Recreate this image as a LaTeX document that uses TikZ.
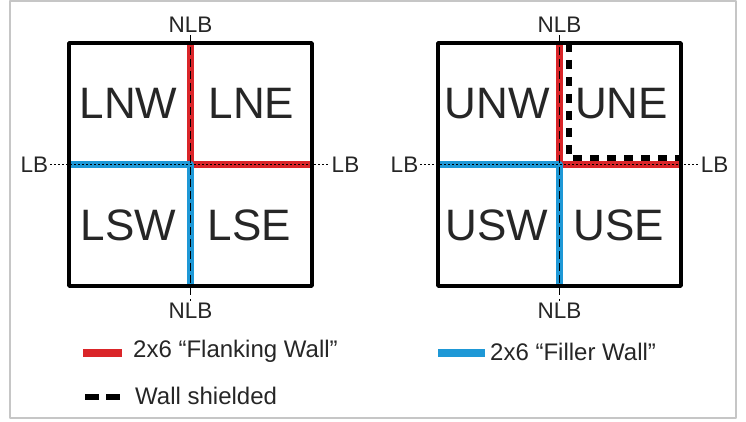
\documentclass[tikz,border=0pt]{standalone}
\usepackage{fontspec}
\setmainfont{Liberation Sans}
\definecolor{flankred}{RGB}{218,37,41}
\definecolor{fillblue}{RGB}{30,152,214}
\tikzset{
  wall/.style={line width=7.5pt},
  shielded/.style={line width=6.5pt,dash pattern=on 9pt off 8pt},
  nlbline/.style={line width=1.1pt,dash pattern=on 8pt off 4pt},
  lbline/.style={line width=1.1pt,dash pattern=on 2pt off 2pt},
  quad/.style={font=\fontsize{44}{44}\selectfont,text=black!85},
  bound/.style={font=\fontsize{22.5}{22.5}\selectfont,text=black!85,inner sep=2pt},
  legtext/.style={font=\fontsize{24}{24}\selectfont,text=black!85,anchor=west,inner sep=0pt}
}
\begin{document}
\begin{tikzpicture}[x=1pt,y=1pt,line join=round]
    \def\h{121.5}
    \useasboundingbox (0,0) rectangle (746,421);
    \draw[gray!45,line width=1.2pt] (10,3) rectangle (736,420);
    % lower floor
    \begin{scope}[shift={(190.5,256.5)}]
    \coordinate (O) at (0,0);
    \coordinate (N) at (0,\h);
    \coordinate (S) at (0,-\h);
    \coordinate (E) at (\h,0);
    \coordinate (W) at (-\h,0);
    \draw[wall,flankred] (N)--(O)--(E);
    \draw[wall,fillblue] (W)--(O)--(S);
    \draw[line width=3.5pt] (-\h,-\h) rectangle (\h,\h);
    \node[bound] (nlbNL) at (0,139.5) {NLB};
    \node[bound] (nlbSL) at (0,-146.5) {NLB};
    \node[bound] (lbWL) at (-156,0) {LB};
    \node[bound] (lbEL) at (155,0) {LB};
    \draw[nlbline] (nlbNL)--(nlbSL);
    \draw[lbline] (lbWL)--(lbEL);
    \node[quad] (LNW) at (-62,61) {LNW};
    \node[quad] (LNE) at (61,61) {LNE};
    \node[quad] (LSW) at (-62,-61) {LSW};
    \node[quad] (LSE) at (59,-61) {LSE};
    \end{scope}
    % upper floor
    \begin{scope}[shift={(559.5,256.5)}]
    \coordinate (O) at (0,0);
    \coordinate (N) at (0,\h);
    \coordinate (S) at (0,-\h);
    \coordinate (E) at (\h,0);
    \coordinate (W) at (-\h,0);
    \draw[wall,flankred] (N)--(O)--(E);
    \draw[wall,fillblue] (W)--(O)--(S);
    \draw[shielded] (9.5,\h)--(9.5,6.5)--(\h,6.5);
    \draw[line width=3.5pt] (-\h,-\h) rectangle (\h,\h);
    \node[bound] (nlbNU) at (0,139.5) {NLB};
    \node[bound] (nlbSU) at (0,-146.5) {NLB};
    \node[bound] (lbWU) at (-155,0) {LB};
    \node[bound] (lbEU) at (155,0) {LB};
    \draw[nlbline] (nlbNU)--(nlbSU);
    \draw[lbline] (lbWU)--(lbEU);
    \node[quad] (UNW) at (-62.5,61) {UNW};
    \node[quad] (UNE) at (62,61) {UNE};
    \node[quad] (USW) at (-62.5,-61) {USW};
    \node[quad] (USE) at (59,-61) {USE};
    \end{scope}
    % key
    \draw[wall,line width=8.5pt,flankred] (83,68)--(122,68);
    \node[legtext] (flankkey) at (133,69.5) {2x6 “Flanking Wall”};
    \draw[wall,line width=8.5pt,fillblue] (438,68)--(485,68);
    \node[legtext] (fillkey) at (490,69.5) {2x6 “Filler Wall”};
    \draw[shielded,dash pattern=on 14pt off 7pt] (85,24)--(120,24);
    \node[legtext] (shieldkey) at (135,25) {Wall shielded};
\end{tikzpicture}
\end{document}
